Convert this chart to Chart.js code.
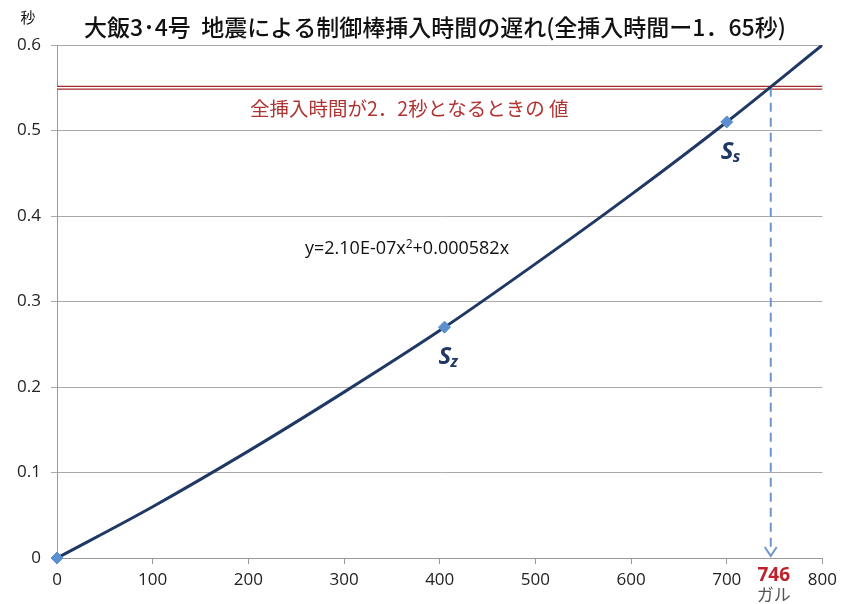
<!DOCTYPE html>
<html>
<head>
<meta charset="utf-8">
<script src="https://cdn.jsdelivr.net/npm/chart.js@4.4.0/dist/chart.umd.min.js"></script>
<style>
  html, body { margin: 0; padding: 0; background: #fff; }
  #wrap { width: 843px; height: 604px; position: relative; }
</style>
</head>
<body>
<div id="wrap"><canvas id="chart"></canvas></div>
<script>
// measured points (gal, seconds)
const pointX = [0, 405, 700];
const pointY = [0, 0.27, 0.51];
const pointNames = ['', 'z', 's'];

// trend curve
const trendX = [0, 100, 200, 300, 400, 500, 600, 700, 800];
const trendY = [0, 0.060, 0.125, 0.194, 0.266, 0.344, 0.425, 0.510, 0.600];

const limitY = 0.55;     // 全挿入時間 2.2秒
const limitX = 746;      // ガル at that value

const titleText = '大飯3･4号  地震による制御棒挿入時間の遅れ(全挿入時間ー1．65秒)';
const limitText = '全挿入時間が2．2秒となるときの 値';
const eqText = 'y=2.10E-07x';
const eqText2 = '+0.000582x';

const jp = '"Noto Sans CJK JP", "Noto Sans", sans-serif';
const lat = '"Open Sans", "Noto Sans", sans-serif';

const annotations = {
  id: 'annotations',
  afterDatasetsDraw(chart) {
    const ctx = chart.ctx;
    const xs = chart.scales.x, ys = chart.scales.y;
    ctx.save();

    // title + axis unit
    ctx.fillStyle = '#111';
    ctx.textBaseline = 'middle';
    ctx.textAlign = 'center';
    ctx.font = '500 23px ' + jp;
    ctx.fillText(titleText, 435, 27);
    ctx.font = '15px ' + jp;
    ctx.fillText('秒', 28, 17);

    // limit label
    ctx.fillStyle = '#b03434';
    ctx.font = '19.5px ' + jp;
    ctx.textAlign = 'left';
    ctx.fillText(limitText, 250, ys.getPixelForValue(0.526));

    // trend equation
    ctx.fillStyle = '#111';
    ctx.font = '18px ' + lat;
    const ex = 305, ey = ys.getPixelForValue(0.361);
    ctx.fillText(eqText, ex, ey);
    let w = ctx.measureText(eqText).width;
    ctx.font = '12px ' + lat;
    ctx.fillText('2', ex + w, ey - 5);
    w += ctx.measureText('2').width;
    ctx.font = '18px ' + lat;
    ctx.fillText(eqText2, ex + w, ey);

    // S labels
    ctx.fillStyle = '#1f3864';
    for (let i = 1; i < pointX.length; i++) {
      const px = xs.getPixelForValue(pointX[i]);
      const py = ys.getPixelForValue(pointY[i]) + 30;
      ctx.font = 'italic bold 24px ' + lat;
      ctx.fillText('S', px - 6, py);
      ctx.font = 'italic bold 16px ' + lat;
      ctx.fillText(pointNames[i], px + 6, py + 5);
    }

    // arrow head
    const ax = xs.getPixelForValue(limitX);
    const ay = ys.getPixelForValue(0) - 2;
    ctx.strokeStyle = '#6f95cc';
    ctx.lineWidth = 2;
    ctx.beginPath();
    ctx.moveTo(ax - 6, ay - 9);
    ctx.lineTo(ax, ay);
    ctx.lineTo(ax + 6, ay - 9);
    ctx.stroke();

    // 746 ガル
    ctx.textAlign = 'center';
    ctx.fillStyle = '#c0202a';
    ctx.font = 'bold 19px ' + lat;
    ctx.fillText(String(limitX), ax + 3, 576);
    ctx.fillStyle = '#555';
    ctx.font = '17px ' + jp;
    ctx.fillText('ガル', ax + 3, 595);
    ctx.restore();
  }
};

const toXY = (xs, ys) => xs.map((x, i) => ({ x: x, y: ys[i] }));

new Chart(document.getElementById('chart'), {
  type: 'scatter',
  data: {
    datasets: [
      {
        data: toXY(pointX, pointY),
        pointStyle: 'rectRot',
        pointRadius: 6,
        pointBackgroundColor: '#5b8fd0',
        pointBorderColor: '#5b8fd0',
        clip: false,
        order: 0
      },
      {
        data: toXY(trendX, trendY),
        showLine: true,
        borderColor: '#1f3864',
        borderWidth: 3,
        pointRadius: 0,
        cubicInterpolationMode: 'monotone',
        order: 1
      },
      {
        data: toXY([limitX, limitX], [limitY, 0.006]),
        showLine: true,
        borderColor: '#6f95cc',
        borderWidth: 2,
        borderDash: [9, 6],
        pointRadius: 0,
        order: 2
      },
      {
        data: toXY([0, 800], [limitY, limitY]),
        showLine: true,
        borderColor: '#ffffff',
        borderWidth: 1.5,
        pointRadius: 0,
        order: 3
      },
      {
        data: toXY([0, 800], [limitY, limitY]),
        showLine: true,
        borderColor: '#a52a2a',
        borderWidth: 4,
        pointRadius: 0,
        order: 4
      }
    ]
  },
  options: {
    responsive: true,
    maintainAspectRatio: false,
    animation: false,
    layout: { padding: { top: 45, right: 16, left: 0, bottom: 0 } },
    plugins: { legend: { display: false }, tooltip: { enabled: false } },
    scales: {
      x: {
        type: 'linear',
        min: 0, max: 800,
        afterFit: (s) => { s.height = 46; },
        ticks: { stepSize: 100, color: '#222', font: { family: lat, size: 17 }, padding: 6 },
        grid: { drawOnChartArea: false, color: '#999', tickLength: 6 },
        border: { color: '#999' }
      },
      y: {
        min: 0, max: 0.6,
        afterFit: (s) => { s.width = 57; },
        ticks: { stepSize: 0.1, color: '#222', font: { family: lat, size: 17 }, padding: 10 },
        grid: { color: '#aaa', tickLength: 6 },
        border: { color: '#999' }
      }
    }
  },
  plugins: [annotations]
});
</script>
</body>
</html>
